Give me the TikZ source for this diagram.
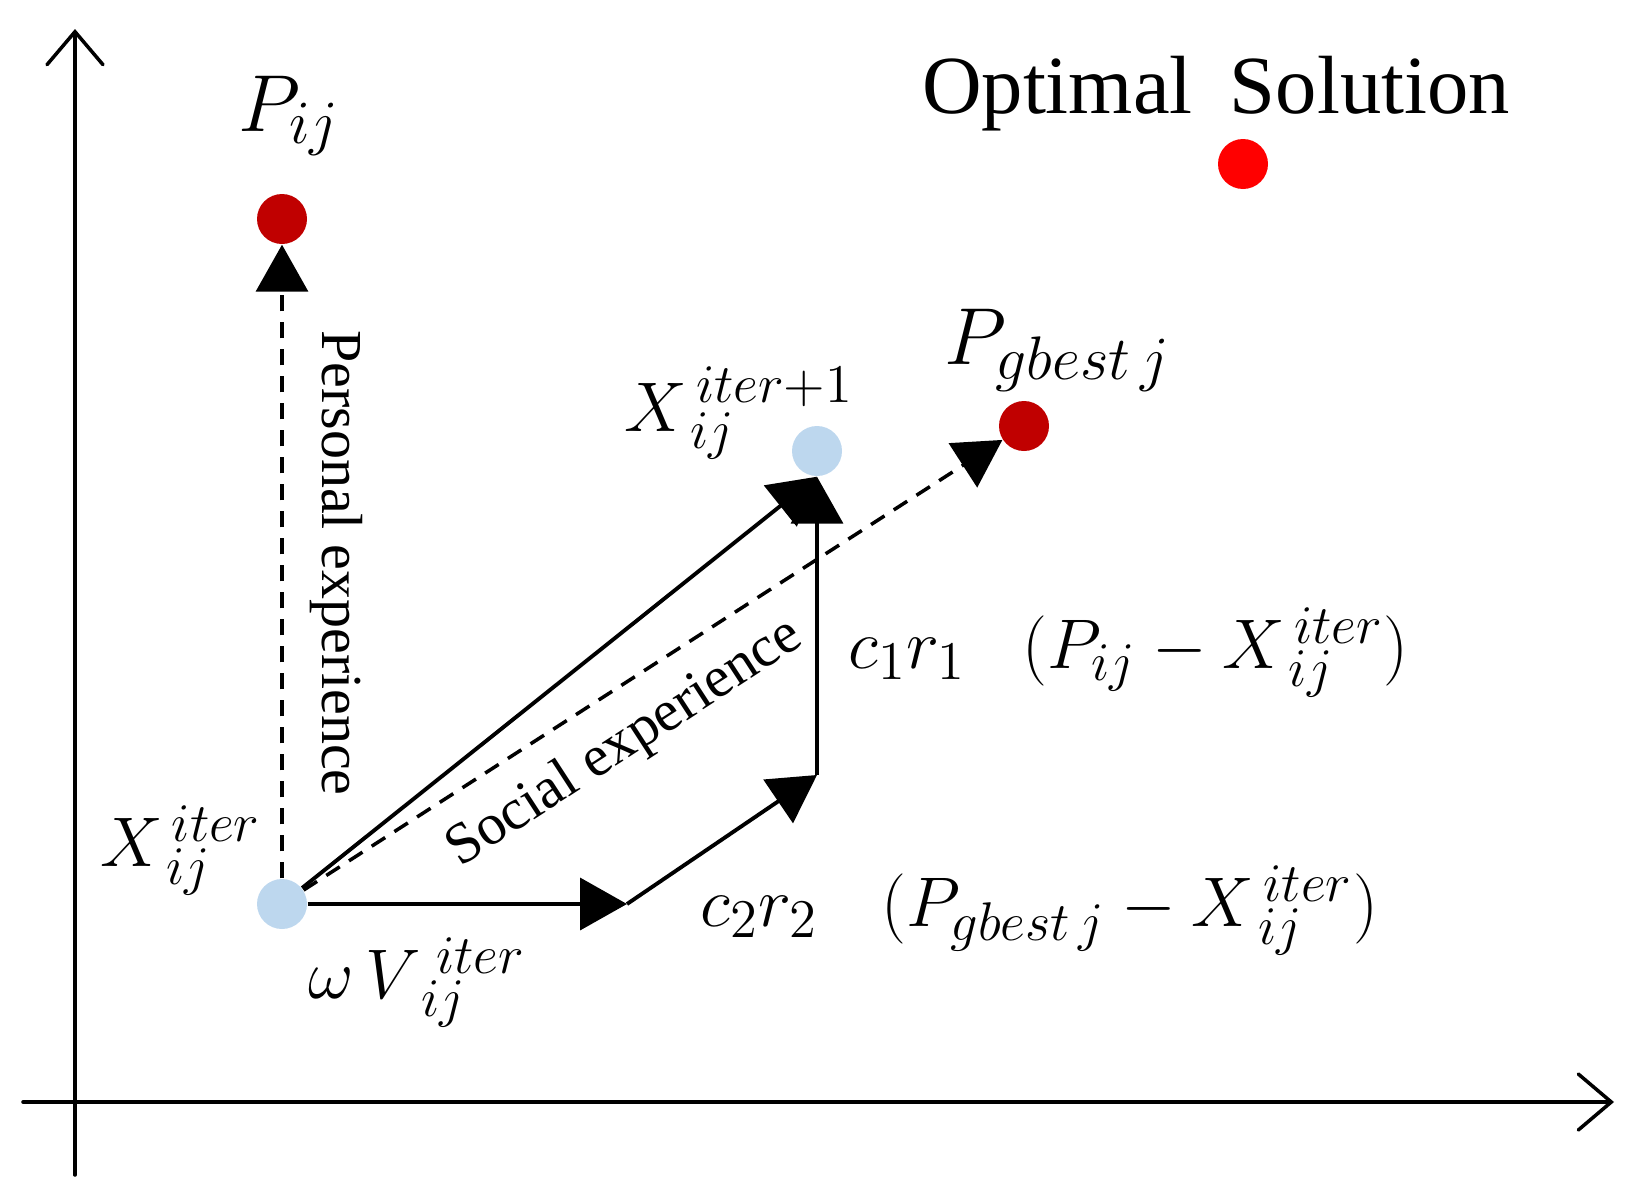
\RequirePackage{fix-cm}
\documentclass[tikz,border=0pt]{standalone}
\usepackage[no-math]{fontspec}
\setmainfont{Liberation Serif}
\newfontfamily\timesfont{Liberation Serif}
\usetikzlibrary{arrows.meta}
\DeclareMathSizes{20}{20}{15.5}{11}
\DeclareMathSizes{23}{23}{17.5}{13}
\definecolor{darkred}{HTML}{C00000}
\definecolor{lightblue}{HTML}{BDD7EE}
\definecolor{brightred}{HTML}{FF0000}
\newcommand{\mathlbl}{\fontsize{20}{24}\selectfont}
\newcommand{\mathbig}{\fontsize{23}{27}\selectfont}
\begin{document}
\begin{tikzpicture}[x=0.1mm,y=-0.1mm,
  dot/.style={circle,minimum size=5mm,inner sep=0pt,draw=none},
  axisline/.style={line width=1pt,line cap=round,-{Straight Barb[length=3.3mm,width=5.6mm,line cap=round]}},
  solidarrow/.style={line width=1.1pt,-{Triangle[length=4.7mm,width=5.2mm]}},
  dasharrow/.style={line width=1pt,dash pattern=on 1.6mm off 1.1mm,-{Triangle[length=4.7mm,width=5.2mm]}},
  mlabel/.style={inner sep=0pt,font=\mathlbl},
  plabel/.style={inner sep=0pt,font=\mathbig},
  tlabel/.style={inner sep=0pt,font=\timesfont\fontsize{16.5}{20}\selectfont},
]
\useasboundingbox (0,0) rectangle (1638,1194);

% axes
\coordinate (ybot) at (75,1175);
\coordinate (ytop) at (75,29);
\coordinate (xl) at (23,1102);
\coordinate (xr) at (1614,1102);
\draw[axisline] (ybot) -- (ytop);
\draw[axisline] (xl) -- (xr);

% dots
\node[dot,fill=darkred] (pij) at (282,219) {};
\node[dot,fill=lightblue] (s) at (282,904) {};
\node[dot,fill=lightblue] (n) at (817,451) {};
\node[dot,fill=darkred] (g) at (1024,426) {};
\node[dot,fill=brightred] (o) at (1243,164) {};

\coordinate (a) at (627,904);
\coordinate (b) at (817,775);

% connectors
\draw[dasharrow] (s) -- (pij);
\draw[dasharrow] (s) -- (g);
\draw[solidarrow] (s) -- (a);
\draw[solidarrow] (a) -- (b);
\draw[solidarrow] (b) -- (n);
\draw[solidarrow] (s) -- (n.south);

% labels
\node[plabel] (lpij) at (289,116) {$P_{ij}$};
\node[inner sep=0pt,font=\timesfont\fontsize{23.5}{28}\selectfont,anchor=base] (lopt) at (1216,113) {Optimal\hspace{0.45em}Solution};
\node[plabel] (lg) at (1058,350) {$P_{gbest\,j}$};
\node[mlabel] (ln) at (739,413) {$X^{\,iter+1}_{\,ij}$};
\node[mlabel,anchor=east] (ls) at (262,850) {$X^{\,iter}_{\,ij}$};
\node[mlabel,anchor=west] (lw) at (308,982) {$\omega\,V^{\;iter}_{\;ij}$};
\node[mlabel,anchor=west] (lc1) at (848,652) {$c_1r_1\hspace{0.8em}\bigl(P_{ij}-X^{\,iter}_{\,ij}\bigr)$};
\node[mlabel,anchor=west] (lc2) at (700,910) {$c_2r_2\hspace{0.9em}\bigl(P_{gbest\,j}-X^{\,iter}_{\,ij}\bigr)$};
\node[tlabel,rotate=-90] (lpers) at (336,563) {Personal experience};
\node[tlabel,rotate=33] (lsoc) at (625,744) {Social experience};
\end{tikzpicture}
\end{document}
